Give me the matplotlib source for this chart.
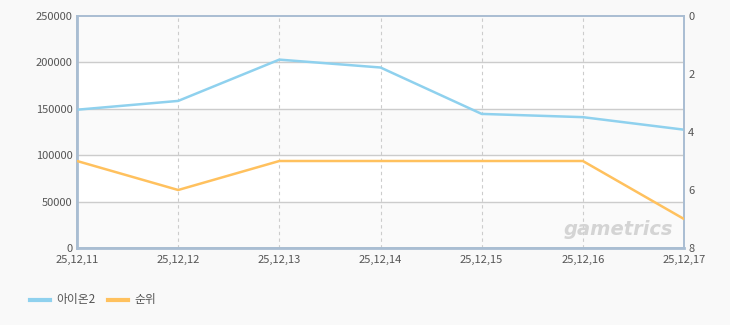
import matplotlib
matplotlib.use("Agg")
import matplotlib.pyplot as plt
import numpy as np

plt.rcParams['font.family'] = ['Noto Sans CJK KR', 'DejaVu Sans']

# Data
dates = ["25,12,11", "25,12,12", "25,12,13", "25,12,14", "25,12,15", "25,12,16", "25,12,17"]
users = [149000, 158500, 203000, 194500, 144500, 141000, 127500]
rank = [5, 6, 5, 5, 5, 5, 7]
series_names = ["아이온2", "순위"]

BLUE = "#8fd1ee"
ORANGE = "#ffc15e"
GRID = "#cccccc"
SPINE = "#a9bdd2"
TXT = "#555555"

fig = plt.figure(figsize=(7.3, 3.25), dpi=100)
fig.patch.set_facecolor("#f9f9f9")
ax = fig.add_axes([77 / 730, 77 / 325, 607 / 730, 232 / 325])
ax.set_facecolor("white")

x = np.arange(len(dates))

# alternating horizontal bands
yticks = [0, 50000, 100000, 150000, 200000, 250000]
for i in range(len(yticks) - 1):
    if i % 2 == 0:
        ax.axhspan(yticks[i], yticks[i + 1], color="#fafafa", zorder=0)

ax.set_xlim(0, len(dates) - 1)
ax.set_ylim(0, 250000)
ax.set_yticks(yticks)
ax.set_yticklabels([str(t) for t in yticks])
ax.set_xticks(x)
ax.set_xticklabels(dates)

for t in yticks[1:-1]:
    ax.axhline(t, color=GRID, lw=1, zorder=1)
for xi in x[1:-1]:
    ax.axvline(xi, color=GRID, lw=0.8, ls=(0, (3, 3)), zorder=1)

ax.plot(x, users, color=BLUE, lw=1.8, zorder=3, solid_capstyle="round")

ax2 = ax.twinx()
ax2.set_ylim(8, 0)
ax2.set_yticks([0, 2, 4, 6, 8])
ax2.plot(x, rank, color=ORANGE, lw=1.8, zorder=3)

for a in (ax, ax2):
    for s in a.spines.values():
        s.set_color(SPINE)
        s.set_linewidth(1.2)
    a.tick_params(length=0, colors=TXT, labelsize=8)
ax.spines["left"].set_linewidth(2)
ax.spines["bottom"].set_linewidth(2)
ax.tick_params(axis="y", pad=3)
ax.tick_params(axis="x", pad=5)
ax2.tick_params(axis="y", pad=3)

# watermark
ax.text(0.982, 0.08, "gametrics", transform=ax.transAxes, ha="right", va="center",
        fontsize=14, fontweight="bold", style="italic", color="#d4d4d4",
        family="DejaVu Sans", zorder=2)

# legend at the bottom
fig.lines.append(plt.Line2D([30 / 730, 50 / 730], [25 / 325, 25 / 325], color=BLUE, lw=3,
                            transform=fig.transFigure))
fig.text(56 / 730, 25 / 325, series_names[0], color=TXT, fontsize=8.5, va="center")
fig.lines.append(plt.Line2D([108 / 730, 128 / 730], [25 / 325, 25 / 325], color=ORANGE, lw=3,
                            transform=fig.transFigure))
fig.text(134 / 730, 25 / 325, series_names[1], color=TXT, fontsize=8.5, va="center")

fig.savefig("out.png", dpi=100, facecolor=fig.get_facecolor())
